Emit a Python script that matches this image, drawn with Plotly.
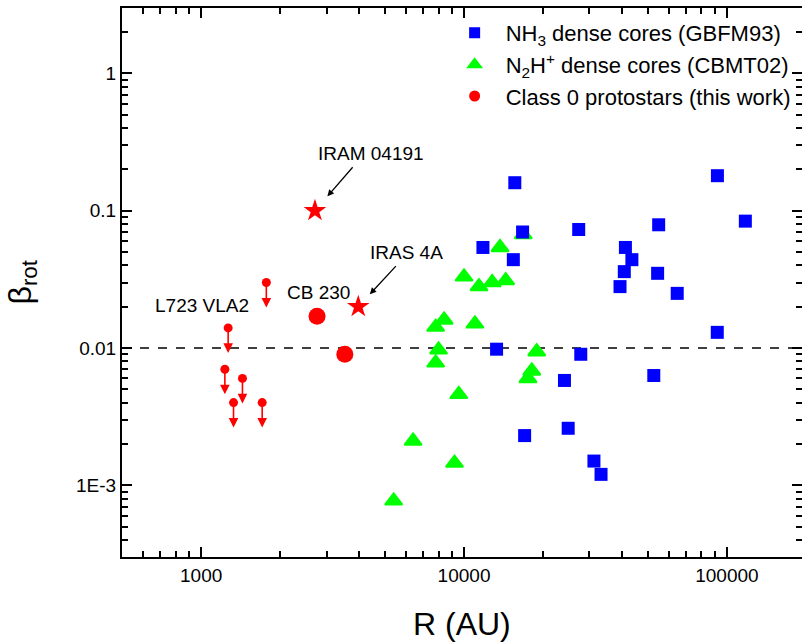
import numpy as np
import plotly.graph_objects as go

# ---------------- data ----------------
nh3_R = [15600, 92000, 16700, 27300, 55000, 117500, 11800, 15400, 41100, 43500,
         40700, 54500, 39200, 64700, 91900, 13300, 27800, 24100, 52700, 17000,
         24900, 31200, 33200]
nh3_beta = [0.16, 0.18, 0.070, 0.073, 0.079, 0.084, 0.054, 0.044, 0.054, 0.044,
            0.036, 0.035, 0.028, 0.025, 0.013, 0.0098, 0.0090, 0.0058, 0.0063, 0.0023,
            0.0026, 0.0015, 0.0012]

n2h_R = [16800, 13700, 10000, 11400, 12800, 14400, 8400, 7800, 11000, 8000,
         7800, 18900, 18100, 17500, 9550, 6400, 9200, 5400]
n2h_beta = [0.067, 0.054, 0.033, 0.028, 0.030, 0.031, 0.016, 0.0142, 0.015, 0.0097,
            0.0078, 0.0094, 0.0068, 0.0060, 0.0046, 0.0021, 0.00145, 0.00077]

class0_R = [2760, 3520]
class0_beta = [0.017, 0.009]
class0_names = ["CB 230", ""]

star_R = [2710, 3960]
star_beta = [0.10, 0.020]
star_names = ["IRAM 04191", "IRAS 4A"]

ul_R = [1770, 1267, 1231, 1436, 1328, 1707]
ul_beta = [0.030, 0.014, 0.007, 0.006, 0.004, 0.004]
ul_names = ["", "L723 VLA2", "", "", "", ""]

threshold = 0.01

x_ticks = [1000, 10000, 100000]
x_ticktext = ["1000", "10000", "100000"]
y_ticks = [0.001, 0.01, 0.1, 1]
y_ticktext = ["1E-3", "0.01", "0.1", "1"]

x_range = [500, 193000]
y_range = [3e-4, 3]

x_title = "R (AU)"
y_title = "β<sub>rot</sub>"

legend_names = ["NH<sub>3</sub> dense cores (GBFM93)",
                "N<sub>2</sub>H<sup>+</sup> dense cores (CBMT02)",
                "Class 0 protostars (this work)"]

# ---------------- style ----------------
BLUE = "#0000FF"
GREEN = "#00FF00"
RED = "#FF0000"
FONT = "Liberation Sans, Arial, sans-serif"


def minor_vals(lo, hi):
    vals = []
    for e in range(int(np.floor(np.log10(lo))) - 1, int(np.ceil(np.log10(hi))) + 1):
        for m in range(2, 10):
            v = m * 10.0 ** e
            if lo <= v <= hi:
                vals.append(v)
    return vals


fig = go.Figure()

fig.add_trace(go.Scatter(x=n2h_R, y=n2h_beta, mode="markers", showlegend=False,
                         marker=dict(symbol="triangle-up", size=15, color=GREEN,
                                     line=dict(color=GREEN, width=2))))
fig.add_trace(go.Scatter(x=nh3_R, y=nh3_beta, mode="markers", showlegend=False,
                         marker=dict(symbol="square", size=13, color=BLUE,
                                     line=dict(width=0))))
fig.add_trace(go.Scatter(x=class0_R, y=class0_beta, mode="markers", showlegend=False,
                         marker=dict(symbol="circle", size=17, color=RED, line=dict(width=0))))
fig.add_trace(go.Scatter(x=ul_R, y=ul_beta, mode="markers", showlegend=False,
                         marker=dict(symbol="circle", size=9, color=RED, line=dict(width=0))))
fig.add_trace(go.Scatter(x=star_R, y=star_beta, mode="markers", showlegend=False,
                         marker=dict(symbol="star", size=17, color=RED, line=dict(width=0))))

# legend-only entries
leg_syms = [("square", 11, BLUE, 0), ("triangle-up", 12, GREEN, 1.5), ("circle", 11, RED, 0)]
for name, (sym, sz, col, lw) in zip(legend_names, leg_syms):
    fig.add_trace(go.Scatter(x=[None], y=[None], mode="markers", name=name,
                             legendgroup=name,
                             marker=dict(symbol=sym, size=sz, color=col,
                                         line=dict(color=col, width=lw))))

# invisible trace on the overlay axes that carry the minor ticks
fig.add_trace(go.Scatter(x=[None], y=[None], xaxis="x2", yaxis="y2",
                         mode="markers", showlegend=False, hoverinfo="skip"))

fig.add_hline(y=threshold, line=dict(color="black", width=1.5, dash="dash"), layer="below")

ann = []
# upper-limit arrows
for R, b in zip(ul_R, ul_beta):
    ann.append(dict(x=np.log10(R), y=np.log10(b), xref="x", yref="y", text="",
                    showarrow=True, ax=0, ay=-25, yshift=-25,
                    arrowhead=2, arrowsize=1.2, arrowwidth=1.6, arrowcolor=RED))
# labels for stars with arrows
star_arrow = [(39, -45, 19, 56, 57), (39, -42, 17, 48, 54)]
for R, b, nm, (axp, ayp, so, xs, ys) in zip(star_R, star_beta, star_names, star_arrow):
    ann.append(dict(x=np.log10(R), y=np.log10(b), xref="x", yref="y", text="",
                    showarrow=True, ax=axp, ay=ayp, standoff=so,
                    arrowhead=2, arrowsize=1.0, arrowwidth=1.3, arrowcolor="black"))
    ann.append(dict(x=np.log10(R), y=np.log10(b), xref="x", yref="y", text=nm,
                    showarrow=False, xshift=xs, yshift=ys,
                    font=dict(family=FONT, size=19, color="black")))
for R, b, nm in zip(class0_R, class0_beta, class0_names):
    if nm:
        ann.append(dict(x=np.log10(R), y=np.log10(b), xref="x", yref="y", text=nm,
                        showarrow=False, xshift=1, yshift=24,
                        font=dict(family=FONT, size=19, color="black")))
for R, b, nm in zip(ul_R, ul_beta, ul_names):
    if nm:
        ann.append(dict(x=np.log10(R), y=np.log10(b), xref="x", yref="y", text=nm,
                        showarrow=False, xshift=-26, yshift=22,
                        font=dict(family=FONT, size=19, color="black")))

# axis titles
ann.append(dict(x=0.5, y=0, xref="paper", yref="paper", yanchor="middle", xanchor="center",
                yshift=-67, text=x_title, showarrow=False,
                font=dict(family=FONT, size=32, color="black")))
ann.append(dict(x=0, y=0.5, xref="paper", yref="paper", xanchor="center", yanchor="middle",
                xshift=-100, text=y_title, showarrow=False, textangle=-90,
                font=dict(family=FONT, size=32, color="black")))

xr = [np.log10(x_range[0]), np.log10(x_range[1])]
yr = [np.log10(y_range[0]), np.log10(y_range[1])]

major = dict(type="log", showgrid=False, zeroline=False, showline=True,
             linecolor="black", linewidth=2, mirror="ticks",
             ticks="inside", ticklen=10, tickwidth=2, tickcolor="black",
             automargin=False, layer="above traces",
             tickfont=dict(family=FONT, size=19, color="black"))
minor = dict(type="log", showgrid=False, zeroline=False, showline=False,
             mirror="ticks", ticks="inside", ticklen=6, tickwidth=1.5, tickcolor="black",
             automargin=False, showticklabels=False, tickmode="array")

fig.update_layout(
    xaxis=dict(**major, range=xr, tickmode="array", tickvals=x_ticks, ticktext=x_ticktext),
    yaxis=dict(**major, range=yr, tickmode="array", tickvals=y_ticks, ticktext=y_ticktext),
    xaxis2=dict(**minor, range=xr, tickvals=minor_vals(*x_range), overlaying="x",
                anchor="y2", side="bottom"),
    yaxis2=dict(**minor, range=yr, tickvals=minor_vals(*y_range), overlaying="y",
                anchor="x2", side="left"),
    width=802, height=642,
    margin=dict(l=122, r=0, t=8, b=85),
    paper_bgcolor="white", plot_bgcolor="white",
    font=dict(family=FONT, color="black"),
    showlegend=True,
    legend=dict(x=0.473, y=0.9927, xanchor="left", yanchor="top",
                bgcolor="rgba(0,0,0,0)", borderwidth=0,
                font=dict(family=FONT, size=22, color="black"),
                traceorder="grouped", tracegroupgap=0, itemwidth=52),
    annotations=ann,
)

fig.write_html("out.html", config={"displayModeBar": False},
               post_script="document.body.style.margin='0px';")
